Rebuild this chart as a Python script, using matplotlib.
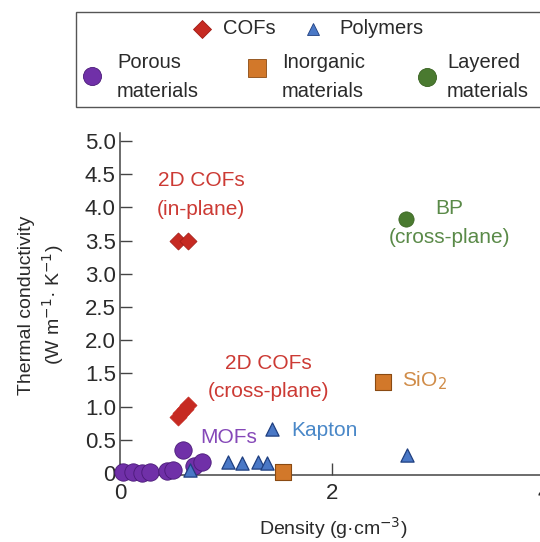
import matplotlib
matplotlib.use("Agg")
import matplotlib.pyplot as plt
from matplotlib.lines import Line2D
from matplotlib.patches import Rectangle

plt.rcParams['font.family'] = ['Liberation Sans', 'DejaVu Sans']

# ---- data -------------------------------------------------------------
cof_inplane_x = [0.55, 0.64]
cof_inplane_y = [3.50, 3.50]
cof_cross_x = [0.55, 0.58, 0.61, 0.64]
cof_cross_y = [0.85, 0.91, 0.97, 1.03]

porous_x = [0.03, 0.12, 0.21, 0.28, 0.44, 0.50, 0.59, 0.70, 0.77]
porous_y = [0.02, 0.01, 0.00, 0.02, 0.03, 0.05, 0.34, 0.10, 0.16]

polymer_x = [0.66, 1.02, 1.15, 1.30, 1.39, 1.43, 2.71]
polymer_y = [0.05, 0.17, 0.15, 0.17, 0.15, 0.66, 0.27]

inorganic_x = [1.54, 2.48]
inorganic_y = [0.02, 1.37]

layered_x = [2.70]
layered_y = [3.83]

x_ticks = [0, 2, 4]
x_tick_labels = ["0", "2", "4"]
y_ticks = [0, 0.5, 1.0, 1.5, 2.0, 2.5, 3.0, 3.5, 4.0, 4.5, 5.0]
y_tick_labels = ["0", "0.5", "1.0", "1.5", "2.0", "2.5", "3.0", "3.5", "4.0", "4.5", "5.0"]

# ---- colours ----------------------------------------------------------
RED, RED_T = "#c62a22", "#cc3a34"
BLUE, BLUE_E, BLUE_T = "#4a78c6", "#1f3f80", "#4a88c8"
PURPLE, PURPLE_T = "#7030a8", "#8548b8"
ORANGE, ORANGE_E, ORANGE_T = "#d2782a", "#8a4a12", "#d08c48"
GREEN, GREEN_T = "#4a7a30", "#5a8a48"
AXIS = "#444444"
TXT = "#2a2a2a"
FS_ANN = 15
FS_TICK = 16
FS_LAB = 14
FS_LEG = 14.5
LS = 1.65

W, H = 540, 542
fig = plt.figure(figsize=(W / 100, H / 100), dpi=100)
ax = fig.add_axes([120 / W, 67 / H, 424 / W, 342 / H])

ax.scatter(porous_x, porous_y, s=12.5 ** 2, marker="o", color=PURPLE,
           edgecolors="#4a1a78", linewidths=0.6, clip_on=False, zorder=3)
ax.scatter(cof_inplane_x, cof_inplane_y, s=8.7 ** 2, marker="D", color=RED,
           edgecolors="#a01a14", linewidths=0.5, clip_on=False, zorder=3)
ax.scatter(cof_cross_x, cof_cross_y, s=8.7 ** 2, marker="D", color=RED,
           edgecolors=RED, linewidths=0.5, clip_on=False, zorder=3)
ax.scatter(polymer_x, polymer_y, s=9.5 ** 2, marker="^", color=BLUE,
           edgecolors=BLUE_E, linewidths=0.9, clip_on=False, zorder=4)
ax.scatter(inorganic_x, inorganic_y, s=11.5 ** 2, marker="s", color=ORANGE,
           edgecolors=ORANGE_E, linewidths=0.8, clip_on=False, zorder=4)
ax.scatter(layered_x, layered_y, s=11 ** 2, marker="o", color=GREEN,
           edgecolors="#36601e", linewidths=0.5, clip_on=False, zorder=3)

# annotations (multi-line labels are anchored on the baseline of their last line)
ax.text(0.764, 3.89, "2D COFs\n(in-plane)", color=RED_T, fontsize=FS_ANN,
        ha="center", va="baseline", multialignment="center", linespacing=LS)
ax.text(1.40, 1.14, "2D COFs\n(cross-plane)", color=RED_T, fontsize=FS_ANN,
        ha="center", va="baseline", multialignment="center", linespacing=LS)
ax.text(0.755, 0.45, "MOFs", color=PURPLE_T, fontsize=FS_ANN, ha="left", va="baseline")
ax.text(1.62, 0.56, "Kapton", color=BLUE_T, fontsize=FS_ANN, ha="left", va="baseline")
ax.text(2.66, 1.30, "SiO$_2$", color=ORANGE_T, fontsize=FS_ANN, ha="left", va="baseline")
ax.text(3.11, 3.46, "BP\n(cross-plane)", color=GREEN_T, fontsize=FS_ANN,
        ha="center", va="baseline", multialignment="center", linespacing=LS)

# axes styling
ax.set_xlim(0, 4)
ax.set_ylim(-0.03, 5.12)
ax.set_xticks(x_ticks, x_tick_labels)
ax.set_yticks(y_ticks, y_tick_labels)
for s in ("top", "right"):
    ax.spines[s].set_visible(False)
for s in ("left", "bottom"):
    ax.spines[s].set_color(AXIS)
    ax.spines[s].set_linewidth(1.1)
ax.tick_params(direction="in", length=8.5, width=1.0, color=AXIS,
               labelsize=FS_TICK, labelcolor=TXT)
ax.tick_params(axis="x", pad=6)
ax.tick_params(axis="y", pad=3)

fig.text(42 / W, 1 - 305 / H, "Thermal conductivity\n(W m$^{-1}$· K$^{-1}$)",
         rotation=90, ha="center", va="center", multialignment="center",
         fontsize=FS_LAB, color=TXT, linespacing=1.25)
fig.text(333 / W, 1 - 528 / H, "Density (g·cm$^{-3}$)", ha="center", va="center",
         fontsize=FS_LAB, color=TXT)

# ---- legend box -------------------------------------------------------
def px(x, y):
    return x / W, 1 - y / H

fig.add_artist(Rectangle(px(76, 107), 500 / W, 95 / H, transform=fig.transFigure,
                         facecolor="white", edgecolor="#555555", linewidth=1.0))

legend_items = [
    ((202, 29), "D", 9.2, RED, "#a01a14", (223, 29), "COFs"),
    ((313, 29), "^", 8.6, BLUE, BLUE_E, (339, 29), "Polymers"),
    ((92, 76), "o", 13, PURPLE, "#4a1a78", (117, 77), "Porous\nmaterials"),
    ((257, 68), "s", 13, ORANGE, ORANGE_E, (282, 77), "Inorganic\nmaterials"),
    ((427, 77), "o", 13, GREEN, "#36601e", (447, 77), "Layered\nmaterials"),
]
for (mx, my), mk, ms, fc, ec, (tx, ty), label in legend_items:
    fx, fy = px(mx, my)
    fig.add_artist(Line2D([fx], [fy], transform=fig.transFigure, marker=mk,
                          markersize=ms, markerfacecolor=fc, markeredgecolor=ec,
                          markeredgewidth=0.6, linestyle="none"))
    gx, gy = px(tx, ty)
    fig.text(gx, gy, label, ha="left", va="center", fontsize=FS_LEG,
             color=TXT, linespacing=LS)

fig.savefig("out.png", dpi=100)
